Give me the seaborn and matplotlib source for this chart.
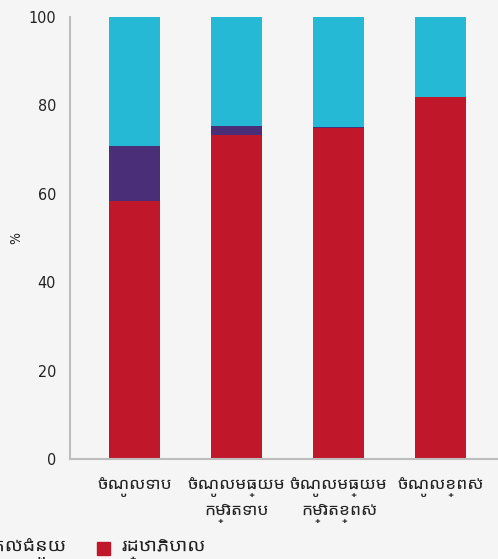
import matplotlib
matplotlib.use("Agg")
import pandas as pd
import seaborn as sns
import matplotlib.pyplot as plt
from matplotlib.patches import Patch

# Data (percent share of financing by income group)
groups = ["ចំណូលទាប", "ចំណូលមធ្យម\nកម្រិតទាប", "ចំណូលមធ្យម\nកម្រិតខ្ពស់", "ចំណូលខ្ពស់"]
government = [58.3, 73.2, 74.8, 81.8]
donors = [12.5, 2.2, 0.3, 0.0]
other = [29.2, 24.6, 24.9, 18.2]

series_names = ["គ្រួសារ", "អ្នកផ្តល់ជំនួយ", "រដ្ឋាភិបាល"]
colors = {"គ្រួសារ": "#26B9D6", "អ្នកផ្តល់ជំនួយ": "#4B2E78", "រដ្ឋាភិបាល": "#C0172A"}

df = pd.DataFrame({"group": groups, "gov": government, "don": donors, "oth": other})
df["top"] = df["gov"] + df["don"] + df["oth"]
df["mid"] = df["gov"] + df["don"]

sns.set_style("white")
plt.rcParams["font.family"] = ["DejaVu Sans", "Noto Sans Khmer UI"]
khmer = ["Noto Sans Khmer UI", "DejaVu Sans"]
txt = "#222222"
bg = "#F5F5F5"

fig = plt.figure(figsize=(4.98, 5.59), dpi=100, facecolor=bg)
ax = fig.add_axes([70 / 498, 99.7 / 559, 428 / 498, 442.6 / 559])
ax.set_facecolor(bg)

# stacked bars: draw cumulative totals back to front
sns.barplot(data=df, x="group", y="top", color=colors["គ្រួសារ"], width=0.5, linewidth=0, saturation=1, ax=ax)
sns.barplot(data=df, x="group", y="mid", color=colors["អ្នកផ្តល់ជំនួយ"], width=0.5, linewidth=0, saturation=1, ax=ax)
sns.barplot(data=df, x="group", y="gov", color=colors["រដ្ឋាភិបាល"], width=0.5, linewidth=0, saturation=1, ax=ax)

ax.set_ylim(0, 100)
ax.set_xlim(-0.635, 3.56)
ax.set_yticks([0, 20, 40, 60, 80, 100])
ax.set_xlabel("")
ax.set_ylabel("%", fontsize=10, color=txt, labelpad=4, fontstretch="condensed")
for s in ["top", "right"]:
    ax.spines[s].set_visible(False)
for s in ["left", "bottom"]:
    ax.spines[s].set_color("#BDBDBD")
    ax.spines[s].set_linewidth(1.5)
ax.tick_params(axis="y", length=5, width=1.5, color="#BDBDBD", pad=5, labelsize=11.5, labelcolor=txt)
ax.tick_params(axis="x", length=0, pad=12.5, labelcolor=txt)
for lbl in ax.get_yticklabels():
    lbl.set_fontstretch("condensed")
for lbl in ax.get_xticklabels():
    lbl.set_family(khmer)
    lbl.set_fontsize(12.5)
    lbl.set_linespacing(1.5)

handles = [Patch(color=colors[n], label=n) for n in series_names]
fig.legend(handles=handles, loc="lower right", bbox_to_anchor=(223 / 498, -0.034), ncol=3,
           frameon=False, prop={"family": khmer, "size": 14}, handlelength=0.68, handleheight=0.68,
           handletextpad=0.55, columnspacing=1.6, labelcolor=txt)

fig.savefig("out.png", dpi=100, facecolor=bg)
